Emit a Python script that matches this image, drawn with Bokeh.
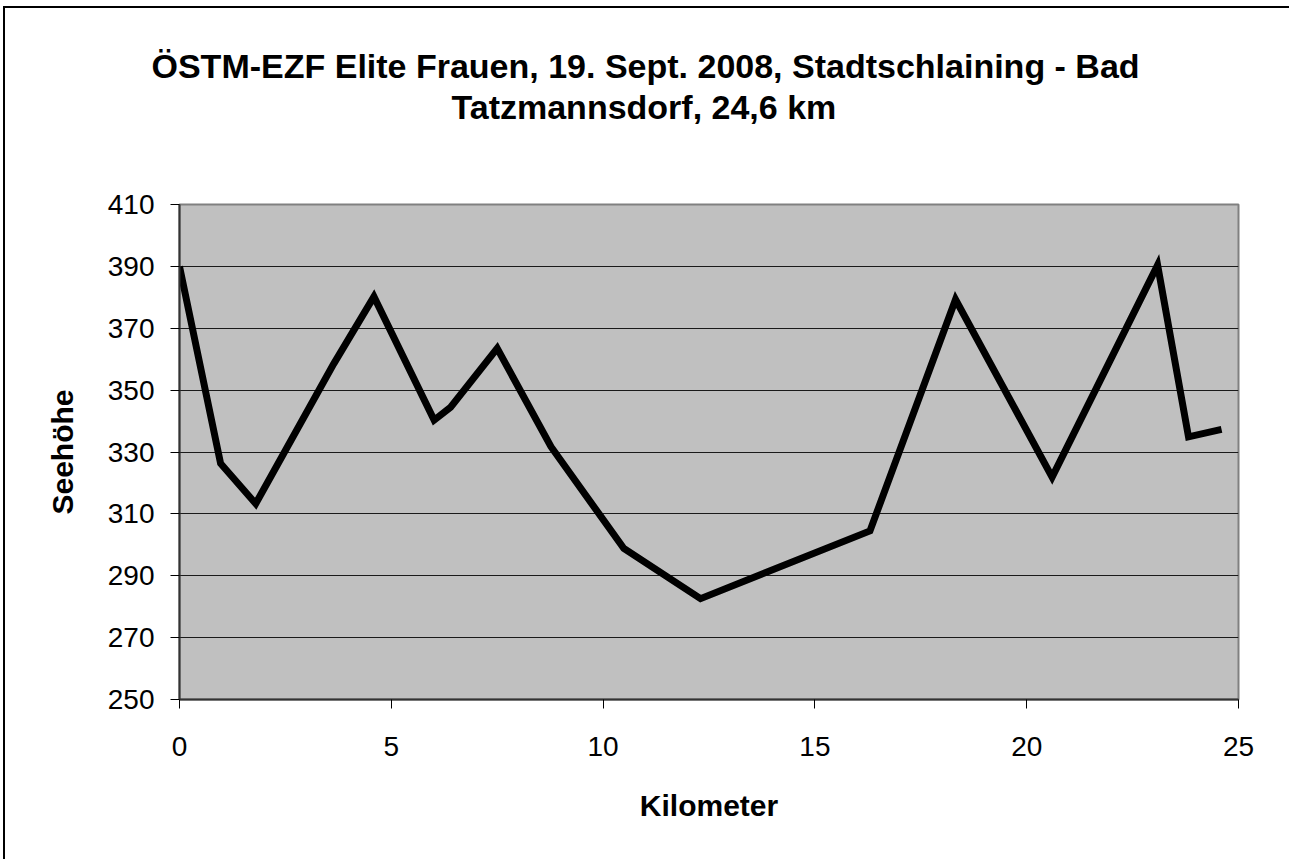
from bokeh.plotting import figure
from bokeh.models import Range1d, Title, FixedTicker, Spacer
from bokeh.layouts import column, row
from bokeh.embed import file_html
from bokeh.resources import INLINE

# ---- data ----
km = [0.0, 0.97, 1.80, 3.64, 4.59, 6.01, 6.40, 7.50, 8.77, 10.49, 12.30,
      16.30, 18.32, 20.60, 23.09, 23.82, 24.6]
elev = [390, 326.3, 313.3, 358.5, 380.2, 340.3, 344.5, 363.5, 331.7, 298.8,
        282.6, 304.5, 379.3, 321.9, 390.4, 334.9, 337.3]
x_ticks = [0, 5, 10, 15, 20, 25]
y_ticks = [250, 270, 290, 310, 330, 350, 370, 390, 410]
title_lines = ["ÖSTM-EZF Elite Frauen, 19. Sept. 2008, Stadtschlaining - Bad",
               "Tatzmannsdorf, 24,6 km"]
x_label = "Kilometer"
y_label = "Seehöhe"

FONT = "Liberation Sans"
W, H = 1284, 851

fig = figure(width=W, height=H, output_backend="svg", toolbar_location=None,
             x_range=Range1d(0, 25), y_range=Range1d(250, 410),
             min_border_left=174, min_border_right=W - 1233,
             min_border_top=196, min_border_bottom=H - 691)

fig.background_fill_color = "#C0C0C0"
fig.border_fill_color = "white"
fig.outline_line_color = "#808080"
fig.outline_line_width = 2

fig.xgrid.visible = False
fig.ygrid.ticker = FixedTicker(ticks=y_ticks)
fig.ygrid.grid_line_color = "#1a1a1a"
fig.ygrid.grid_line_width = 1

fig.xaxis.ticker = FixedTicker(ticks=x_ticks)
fig.yaxis.ticker = FixedTicker(ticks=y_ticks)
for ax in (fig.xaxis, fig.yaxis):
    ax.major_tick_in = 0
    ax.major_tick_out = 9
    ax.minor_tick_in = 0
    ax.minor_tick_out = 0
    ax.axis_line_color = "#333333"
    ax.axis_line_width = 2
    ax.major_tick_line_color = "#000000"
    ax.major_label_text_font = FONT
    ax.major_label_text_font_size = "28px"
    ax.major_label_text_color = "#000000"
    ax.axis_label_text_font = FONT
    ax.axis_label_text_font_style = "bold"
    ax.axis_label_text_font_size = "30px"
    ax.axis_label_text_color = "#000000"

fig.xaxis.axis_label = x_label
fig.yaxis.axis_label = y_label
fig.xaxis.major_label_standoff = 28
fig.yaxis.major_label_standoff = 16
fig.xaxis.axis_label_standoff = 30
fig.yaxis.axis_label_standoff = 26

fig.line(km, elev, line_color="black", line_width=7, line_join="miter")

# title: two lines stacked above the frame (first added = nearest the frame)
spacer = Title(text=" ", text_font_size="1px", standoff=76)
fig.add_layout(spacer, "above")
line2 = Title(text=title_lines[1], align="left", offset=272, standoff=0,
              text_font=FONT, text_font_style="bold", text_font_size="34px",
              text_color="black")
fig.add_layout(line2, "above")
line1 = Title(text=title_lines[0], align="left", offset=-28, standoff=2,
              text_font=FONT, text_font_style="bold", text_font_size="34px",
              text_color="black")
fig.add_layout(line1, "above")

# chart-area frame (left and top edges visible), built from plain spacers
top_bar = Spacer(width=W + 2, height=2, styles={"background-color": "#000000"})
left_bar = Spacer(width=2, height=H, styles={"background-color": "#000000"})
p = column(Spacer(width=10, height=6),
           row(Spacer(width=3, height=10),
               column(top_bar, row(left_bar, fig, spacing=0), spacing=0),
               spacing=0),
           spacing=0)

open("out.html", "w").write(file_html(p, INLINE))
